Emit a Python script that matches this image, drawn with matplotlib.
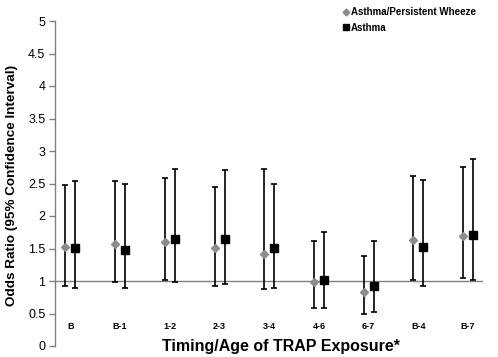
import matplotlib
matplotlib.use("Agg")
import matplotlib.pyplot as plt
from matplotlib.lines import Line2D
import numpy as np

plt.rcParams['font.family'] = ['Liberation Sans', 'DejaVu Sans']

categories = ["B", "B-1", "1-2", "2-3", "3-4", "4-6", "6-7", "B-4", "B-7"]

wheeze_or = [1.53, 1.57, 1.60, 1.51, 1.41, 0.99, 0.83, 1.63, 1.69]
wheeze_lo = [0.93, 0.98, 1.02, 0.92, 0.88, 0.58, 0.49, 1.02, 1.04]
wheeze_hi = [2.48, 2.54, 2.58, 2.44, 2.72, 1.61, 1.38, 2.62, 2.75]

asthma_or = [1.51, 1.48, 1.65, 1.64, 1.51, 1.02, 0.93, 1.53, 1.71]
asthma_lo = [0.90, 0.89, 0.98, 0.95, 0.90, 0.58, 0.53, 0.92, 1.02]
asthma_hi = [2.54, 2.50, 2.72, 2.71, 2.50, 1.75, 1.61, 2.55, 2.87]

yticks = [0, 0.5, 1, 1.5, 2, 2.5, 3, 3.5, 4, 4.5, 5]
ytick_labels = ["0", "0.5", "1", "1.5", "2", "2.5", "3", "3.5", "4", "4.5", "5"]

W, H = 498, 357
fig = plt.figure(figsize=(W / 100, H / 100), dpi=100)
ax = fig.add_axes([55 / W, 11 / H, 428 / W, 325 / H])

x = np.arange(len(categories))
off = 0.1
grey = "#8c8c8c"

w = np.array(wheeze_or)
a = np.array(asthma_or)
ax.errorbar(x - off, w, yerr=[w - np.array(wheeze_lo), np.array(wheeze_hi) - w],
            fmt='none', ecolor='black', elinewidth=1.2, capsize=2.5, capthick=1.2, zorder=2)
ax.errorbar(x + off, a, yerr=[a - np.array(asthma_lo), np.array(asthma_hi) - a],
            fmt='none', ecolor='black', elinewidth=1.2, capsize=2.5, capthick=1.2, zorder=2)
ax.plot(x - off, w, linestyle='none', marker='D', markersize=4.5, color=grey,
        markeredgecolor=grey, zorder=3)
ax.plot(x + off, a, linestyle='none', marker='s', markersize=5.5, color='black', zorder=3)

ax.axhline(1, color="#808080", linewidth=1.0, zorder=1)

ax.set_xlim(-0.31, 8.3)
ax.set_ylim(0, 5)
ax.set_yticks(yticks)
ax.set_yticklabels(ytick_labels, fontsize=9)
ax.tick_params(axis='y', direction='out', length=4, width=1, color="#808080", pad=3)

ax.set_xticks(x)
ax.set_xticklabels(categories, fontsize=6.5, fontweight='bold')
ax.tick_params(axis='x', length=0, pad=-17)

for s in ['top', 'right', 'bottom']:
    ax.spines[s].set_visible(False)
ax.spines['left'].set_color("#808080")
ax.spines['left'].set_linewidth(1)

fig.text(12 / W, 1 - 185 / H, "Odds Ratio (95% Confidence Interval)", rotation=90,
         fontsize=9.7, fontweight='bold', ha='center', va='center')
fig.text(281 / W, 1 - 346 / H, "Timing/Age of TRAP Exposure*", fontsize=11.5,
         fontweight='bold', ha='center', va='center')

handles = [Line2D([], [], linestyle='none', marker='D', markersize=3.5, color=grey),
           Line2D([], [], linestyle='none', marker='s', markersize=4.5, color='black')]
ax.legend(handles, ["Asthma/Persistent Wheeze", "Asthma"], loc='upper left',
          bbox_to_anchor=(343 / W, 1 - 7 / H), bbox_transform=fig.transFigure,
          frameon=False, prop={'size': 7, 'weight': 'bold'}, handlelength=0.6,
          handletextpad=0.2, labelspacing=0.6, borderpad=0, borderaxespad=0)

fig.savefig("out.png", dpi=100)
